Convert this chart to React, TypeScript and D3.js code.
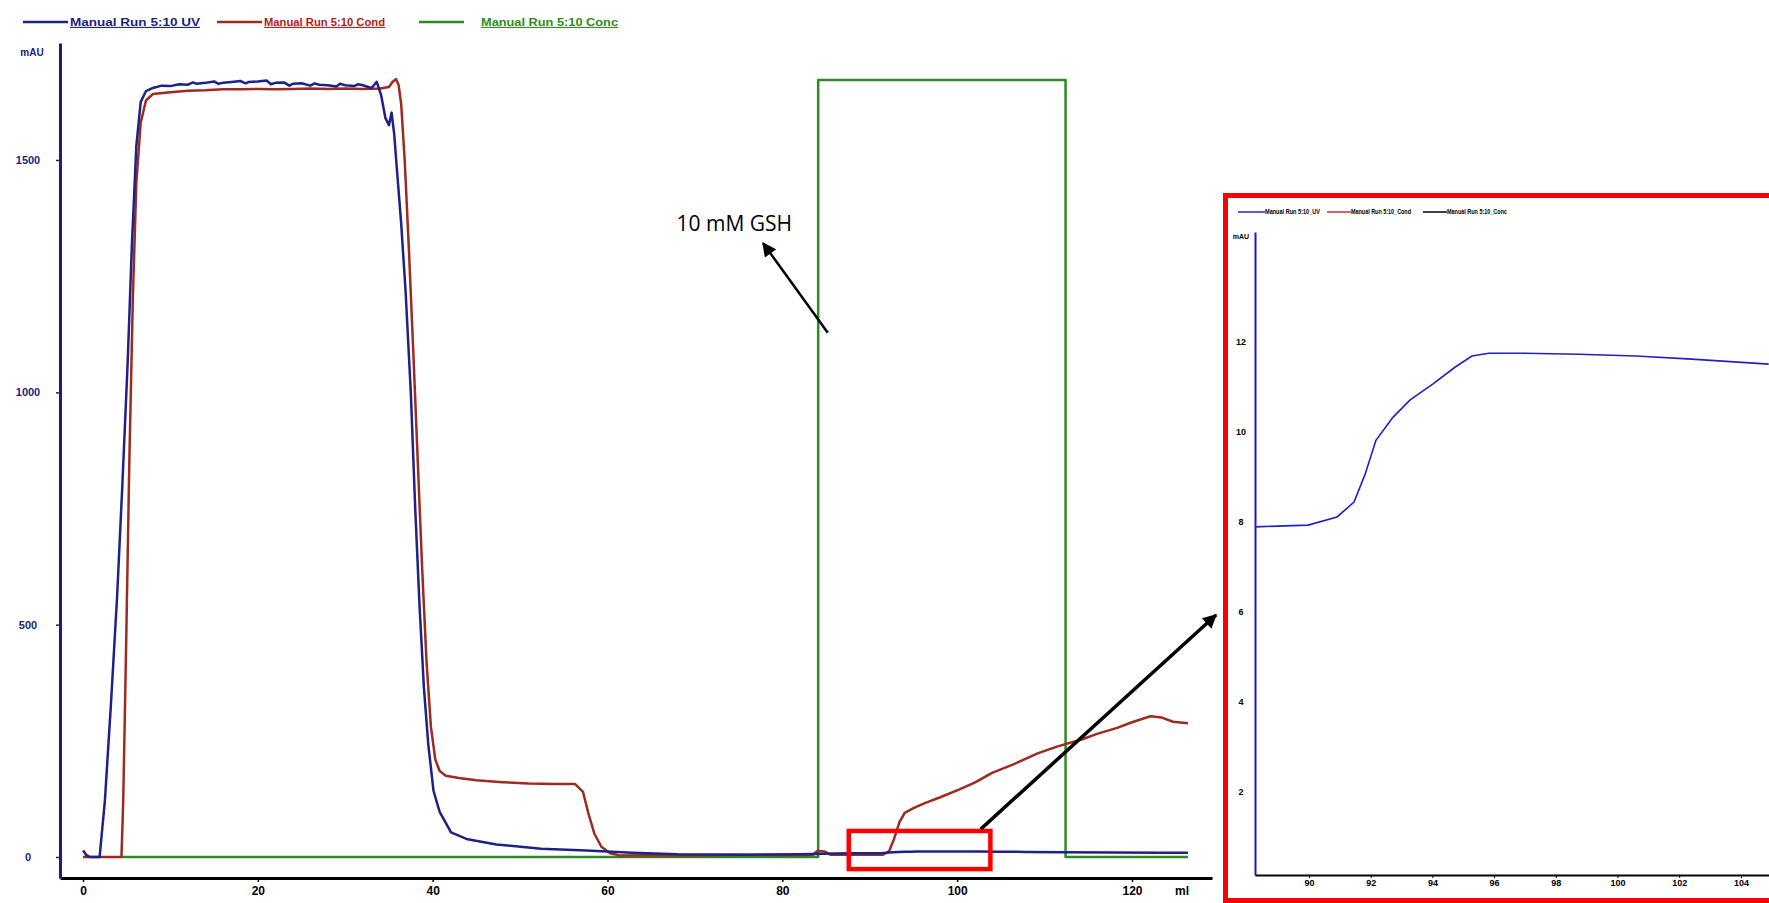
import { useRef, useEffect } from 'react';
import * as d3 from 'd3';

// chromatogram values: [volume ml, mAU]
const uvPoints: [number, number][] = [
  [0, 14], [0.4, 4], [0.8, 0], [1.9, 0], [2.5, 120], [3.2, 330], [3.9, 560], [4.5, 800],
  [5.1, 1060], [5.6, 1320], [6.1, 1530], [6.6, 1625], [7.2, 1648], [8, 1655], [9, 1660],
  [10, 1659], [11, 1663], [12, 1662], [12.6, 1667], [13, 1664], [14, 1666], [15, 1669],
  [15.5, 1664], [16, 1666], [17, 1668], [18, 1670], [18.6, 1665], [19, 1668], [20, 1669],
  [21, 1671], [21.5, 1663], [22, 1666], [23, 1667], [23.6, 1660], [24, 1664], [25, 1665],
  [26, 1660], [26.5, 1665], [27, 1662], [28, 1661], [29, 1658], [29.4, 1664], [30, 1661],
  [31, 1659], [31.5, 1663], [32, 1661], [33, 1655], [33.6, 1668], [34.1, 1640], [34.6, 1590],
  [35.0, 1575], [35.3, 1602], [35.6, 1556], [35.9, 1482], [36.4, 1363], [36.9, 1218],
  [37.5, 1000], [38.0, 752], [38.5, 540], [39.0, 364], [39.5, 242], [40.1, 142], [40.8, 97],
  [42.1, 53], [44.0, 38], [47.3, 27], [52.4, 18], [57.6, 14], [62.8, 9], [68, 6], [75.7, 5],
  [82, 6], [86, 7.5], [88.25, 7.88], [89.97, 7.92], [90.91, 8.1], [91.46, 8.43], [91.82, 9.05],
  [92.17, 9.8], [92.72, 10.31], [93.27, 10.69], [94.02, 11.05], [94.73, 11.42], [95.28, 11.67],
  [95.83, 11.73], [96.94, 11.73], [98.75, 11.71], [100.6, 11.67], [102.4, 11.6], [104.9, 11.49],
  [108, 11], [112, 10], [118, 9.5], [123, 9], [126.4, 9],
];

const condPoints: [number, number][] = [
  [0, 0], [4.4, 0], [4.6, 120], [4.9, 420], [5.3, 850], [5.7, 1200], [6.1, 1450], [6.6, 1580],
  [7.2, 1628], [8, 1642], [10, 1646], [12, 1649], [14, 1650], [16, 1652], [18, 1652],
  [20, 1653], [22, 1652], [24, 1653], [26, 1654], [28, 1653], [30, 1654], [32, 1653],
  [34, 1654], [35, 1657], [35.4, 1668], [35.8, 1674], [36.1, 1662], [36.4, 1620], [36.8, 1500],
  [37.3, 1300], [37.8, 1080], [38.3, 850], [38.8, 620], [39.3, 420], [39.8, 280], [40.3, 210],
  [40.8, 185], [41.5, 175], [43, 170], [45, 165], [48, 161], [51, 158], [54, 157], [56.3, 157],
  [57.2, 140], [57.8, 95], [58.5, 50], [59.3, 22], [60.3, 8], [61.5, 3], [65, 4], [70, 3],
  [75, 5], [80, 4], [83.5, 5], [84, 13], [84.8, 12], [85.5, 5], [91.5, 5], [92.2, 12],
  [92.8, 40], [93.4, 75], [94, 95], [95, 105], [96.3, 116], [98, 128], [100.2, 145],
  [102, 160], [104, 181], [106.5, 200], [109.2, 223], [111.5, 238], [114.4, 254], [116, 265],
  [118.3, 278], [120, 290], [122.1, 303], [123.4, 300], [124.7, 291], [126.4, 288],
];

const concPoints: [number, number][] = [
  [4.4, 0], [84.1, 0], [84.1, 1672], [112.4, 1672], [112.4, 0], [126.4, 0],
];

const seriesNames = ['Manual Run 5:10 UV', 'Manual Run 5:10 Cond', 'Manual Run 5:10 Conc'];
const insetNames = ['Manual Run 5:10_UV', 'Manual Run 5:10_Cond', 'Manual Run 5:10_Conc'];
const xTicks = [0, 20, 40, 60, 80, 100, 120];
const yTicks = [0, 500, 1000, 1500];
const insetXTicks = [90, 92, 94, 96, 98, 100, 102, 104];
const insetYTicks = [2, 4, 6, 8, 10, 12];
const zoomMl = [88.25, 104.91];
const annotation = '10 mM GSH';

const W = 1769;
const H = 903;

function App() {
  const svgRef = useRef<SVGSVGElement | null>(null);

  useEffect(() => {
    const svg = d3.select(svgRef.current);
    svg.selectAll('*').remove();

    const defs = svg.append('defs');
    defs
      .append('marker')
      .attr('id', 'head')
      .attr('viewBox', '0 0 10 10')
      .attr('refX', 9)
      .attr('refY', 5)
      .attr('markerUnits', 'userSpaceOnUse')
      .attr('markerWidth', 16)
      .attr('markerHeight', 14)
      .attr('orient', 'auto')
      .append('path')
      .attr('d', 'M0,0 L10,5 L0,10 z')
      .attr('fill', '#000');

    // ---------- main chromatogram ----------
    const x = d3.scaleLinear().domain([0, 120]).range([83, 1132]);
    const y = d3.scaleLinear().domain([0, 1500]).range([857, 160]);
    const xa = d3.scaleLinear().domain([x.invert(60), x.invert(1212)]).range([60, 1212]);
    const ya = d3.scaleLinear().domain([y.invert(878), y.invert(43)]).range([878, 43]);

    const gx = svg
      .append('g')
      .attr('transform', 'translate(0,878)')
      .attr('color', '#000')
      .call(d3.axisBottom(xa).tickValues(xTicks).tickFormat(d3.format('d')).tickSize(4).tickSizeOuter(0));
    gx.select('.domain').attr('stroke-width', 3);
    gx.selectAll('.tick line').attr('stroke-width', 1.5);
    gx.selectAll('.tick text')
      .attr('y', 13)
      .attr('dy', '0.35em')
      .style('font', 'bold 12px "Liberation Sans", Arial, sans-serif')
      .attr('fill', '#000');
    svg
      .append('text')
      .attr('x', 1182)
      .attr('y', 891)
      .attr('dy', '0.35em')
      .attr('text-anchor', 'middle')
      .style('font', 'bold 12px "Liberation Sans", Arial, sans-serif')
      .text('ml');

    const gy = svg
      .append('g')
      .attr('transform', 'translate(60,0)')
      .attr('color', '#1b1f78')
      .call(d3.axisLeft(ya).tickValues(yTicks).tickFormat(d3.format('d')).tickSize(4).tickSizeOuter(0));
    gy.select('.domain').attr('stroke-width', 3);
    gy.selectAll('.tick line').attr('stroke-width', 1.5);
    gy.selectAll('.tick text')
      .attr('x', -32)
      .attr('text-anchor', 'middle')
      .style('font', 'bold 11px "Liberation Sans", Arial, sans-serif')
      .attr('fill', '#1b1f78');
    svg
      .append('text')
      .attr('x', 32)
      .attr('y', 52)
      .attr('dy', '0.35em')
      .attr('text-anchor', 'middle')
      .attr('fill', '#1b1f78')
      .style('font', 'bold 10px "Liberation Sans", Arial, sans-serif')
      .text('mAU');

    const line = d3
      .line<[number, number]>()
      .x((d) => x(d[0]))
      .y((d) => y(d[1]));

    const series = [
      { pts: concPoints, color: '#2d8a25' },
      { pts: condPoints, color: '#9e2b1f' },
      { pts: uvPoints, color: '#1c2288' },
    ];
    svg
      .selectAll('path.series')
      .data(series)
      .join('path')
      .attr('class', 'series')
      .attr('d', (d) => line(d.pts))
      .attr('fill', 'none')
      .attr('stroke', (d) => d.color)
      .attr('stroke-width', 2.5)
      .attr('stroke-linejoin', 'round');

    // legend
    const legendColors = ['#1c2288', '#9e2b1f', '#2d8a25'];
    const legendTextColors = ['#1a237e', '#b3201a', '#2e8b20'];
    const legendX = [23, 217, 419];
    const legendW = [130, 121, 137];
    seriesNames.forEach((name, i) => {
      const g = svg.append('g').attr('transform', `translate(${legendX[i]},22)`);
      g.append('line')
        .attr('x1', 0)
        .attr('x2', 45)
        .attr('stroke', legendColors[i])
        .attr('stroke-width', 2.5);
      g.append('text')
        .attr('x', i === 2 ? 62 : 47)
        .attr('dy', '0.35em')
        .attr('fill', legendTextColors[i])
        .attr('textLength', legendW[i])
        .attr('lengthAdjust', 'spacingAndGlyphs')
        .style('font', 'bold 11px "Liberation Sans", Arial, sans-serif')
        .style('text-decoration', 'underline')
        .text(name);
    });

    // annotation arrow + label
    svg
      .append('text')
      .attr('x', x(74.5))
      .attr('y', y(1364))
      .attr('dy', '0.35em')
      .attr('text-anchor', 'middle')
      .style('font', '21px "Open Sans", "Noto Sans", sans-serif')
      .attr('fill', '#000')
      .text(annotation);
    svg
      .append('line')
      .attr('x1', x(85.2))
      .attr('y1', y(1128))
      .attr('x2', x(77.8))
      .attr('y2', y(1321))
      .attr('stroke', '#000')
      .attr('stroke-width', 2.5)
      .attr('marker-end', 'url(#head)');

    // zoom box on the main chart
    svg
      .append('rect')
      .attr('x', x(87.6))
      .attr('y', y(56))
      .attr('width', x(103.8) - x(87.6))
      .attr('height', y(-26) - y(56))
      .attr('fill', 'none')
      .attr('stroke', '#ff0000')
      .attr('stroke-width', 4.5);

    // ---------- inset ----------
    svg
      .append('rect')
      .attr('x', 1225.5)
      .attr('y', 195.5)
      .attr('width', 620)
      .attr('height', 705)
      .attr('fill', '#fff')
      .attr('stroke', '#ff0000')
      .attr('stroke-width', 5);

    const ix = d3.scaleLinear().domain(zoomMl).range([1255, 1769]);
    const iy = d3.scaleLinear().domain([0.16, 14.42]).range([875, 232]);

    const gix = svg
      .append('g')
      .attr('transform', 'translate(0,875)')
      .attr('color', '#000')
      .call(d3.axisBottom(ix).tickValues(insetXTicks).tickSize(3).tickSizeOuter(0));
    gix.select('.domain').attr('stroke-width', 2);
    gix.selectAll('.tick text')
      .attr('y', 8)
      .attr('dy', '0.35em')
      .style('font', 'bold 9px "Liberation Sans", Arial, sans-serif')
      .attr('fill', '#000');

    const giy = svg
      .append('g')
      .attr('transform', 'translate(1255,0)')
      .attr('color', '#1a1ab0')
      .call(d3.axisLeft(iy).tickValues(insetYTicks).tickSize(0).tickSizeOuter(0));
    giy.select('.domain').attr('stroke-width', 2);
    giy.selectAll('.tick text')
      .attr('x', -14)
      .attr('text-anchor', 'middle')
      .style('font', 'bold 9px "Liberation Sans", Arial, sans-serif')
      .attr('fill', '#000');
    svg
      .append('text')
      .attr('x', 1241)
      .attr('y', 237)
      .attr('dy', '0.35em')
      .attr('text-anchor', 'middle')
      .style('font', 'bold 7px "Liberation Sans", Arial, sans-serif')
      .text('mAU');

    const iline = d3
      .line<[number, number]>()
      .x((d) => ix(d[0]))
      .y((d) => iy(d[1]));
    svg
      .append('path')
      .attr('d', iline(uvPoints.filter((d) => d[0] >= zoomMl[0] - 0.01 && d[0] <= zoomMl[1] + 0.01)))
      .attr('fill', 'none')
      .attr('stroke', '#1f22c0')
      .attr('stroke-width', 1.6);

    const insetColors = ['#2327c4', '#c0302a', '#000'];
    const insetX = [1238, 1327, 1423];
    const insetW = [55, 60, 60];
    insetNames.forEach((name, i) => {
      const g = svg.append('g').attr('transform', `translate(${insetX[i]},212)`);
      g.append('line')
        .attr('x1', 0)
        .attr('x2', i === 0 ? 27 : 24)
        .attr('stroke', insetColors[i])
        .attr('stroke-width', 1.5);
      g.append('text')
        .attr('x', i === 0 ? 27 : 24)
        .attr('dy', '0.35em')
        .attr('textLength', insetW[i])
        .attr('lengthAdjust', 'spacingAndGlyphs')
        .style('font', 'bold 7px "Liberation Sans", Arial, sans-serif')
        .text(name);
    });

    // connector arrow from zoom box to inset
    svg
      .append('line')
      .attr('x1', x(102.7))
      .attr('y1', y(60))
      .attr('x2', 1216)
      .attr('y2', 615)
      .attr('stroke', '#000')
      .attr('stroke-width', 3.5)
      .attr('marker-end', 'url(#head)');
  }, []);

  return (
    <svg
      ref={svgRef}
      width={W}
      height={H}
      style={{ position: 'absolute', left: 0, top: 0, background: '#fff' }}
    ></svg>
  );
}

export default App;
